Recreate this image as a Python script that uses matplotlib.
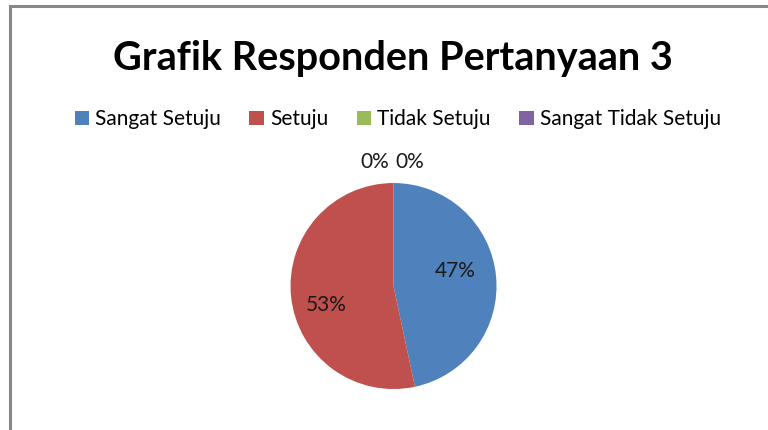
import matplotlib.pyplot as plt
from matplotlib.patches import Rectangle

kategori = ["Sangat Setuju", "Setuju", "Tidak Setuju", "Sangat Tidak Setuju"]
jumlah = [7, 8, 0, 0]
warna = ["#4F81BD", "#C0504D", "#9BBB59", "#8064A2"]

plt.rcParams['font.family'] = ['Lato', 'DejaVu Sans']

fig = plt.figure(figsize=(7.68, 4.30), dpi=100)

# bingkai abu-abu ala Excel
fig.add_artist(Rectangle((10 / 768, -0.1), 1.2, 1.1 - 6 / 430, transform=fig.transFigure,
                         fill=False, edgecolor="#878787", linewidth=2.2))

ax = fig.add_axes([0.3783, 0.0953, 0.2682, 0.4791])
wedges, texts, autotexts = ax.pie(jumlah, colors=warna, startangle=90, counterclock=False,
                                  autopct='%1.0f%%', pctdistance=0.62,
                                  textprops={'fontsize': 15, 'color': '#1a1a1a'})
ax.set_xlim(-1, 1)
ax.set_ylim(-1, 1)

# geser label 0% supaya tidak bertumpuk
autotexts[0].set_position((0.6, 0.15))
autotexts[1].set_position((-0.65, -0.18))
autotexts[2].set_position((-0.18, 1.2))
autotexts[3].set_position((0.16, 1.2))

fig.text(0.511, 0.865, "Grafik Responden Pertanyaan 3", ha='center', va='center',
         fontsize=28.5, fontweight='bold')

fig.legend(wedges, kategori, loc='center', bbox_to_anchor=(0.518, 0.723), ncol=4,
           frameon=False, fontsize=15, handlelength=0.7, handleheight=0.7,
           handletextpad=0.3, columnspacing=1.35)

fig.savefig("out.png", dpi=100)
